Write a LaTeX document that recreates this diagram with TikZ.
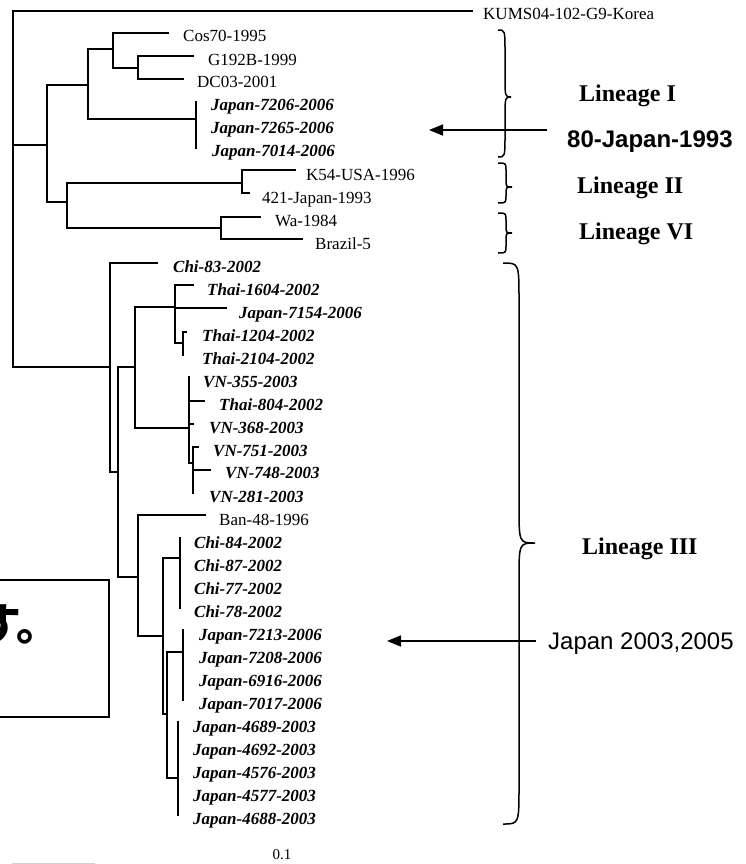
\documentclass[tikz,border=0pt]{standalone}
\usepackage{fontspec}
\setmainfont{Liberation Serif}
\newfontfamily\arialf{Liberation Sans}
\newfontfamily\jpf{Noto Sans CJK JP}
\usetikzlibrary{arrows.meta}
\newcommand{\mybrace}[7]{% x0 x1 x2 ytop ymid ybot r
  \draw[brc] (#1,#4) .. controls (#2,#4) .. (#2,{#4+#7}) -- (#2,{#5-#7})
    .. controls (#2,#5) .. (#3,#5) .. controls (#2,#5) .. (#2,{#5+#7})
    -- (#2,{#6-#7}) .. controls (#2,#6) .. (#1,#6);}
\tikzset{
  br/.style={line width=2.1pt, line cap=rect},
  lab/.style={anchor=base west, inner sep=0pt, font=\fontsize{17}{20}\selectfont},
  labi/.style={anchor=base west, inner sep=0pt, font=\fontsize{17}{20}\selectfont\bfseries\itshape},
  lin/.style={anchor=base west, inner sep=0pt, font=\fontsize{24}{28}\selectfont\bfseries},
  sans/.style={anchor=base west, inner sep=0pt, font=\fontsize{24}{28}\selectfont\arialf},
  brc/.style={line width=1.5pt},
  arr/.style={line width=1.5pt, -{Triangle[length=14pt,width=11pt]}},
}
\begin{document}
\begin{tikzpicture}[x=1pt,y=-1pt]
\useasboundingbox (0,0) rectangle (746,864);
% ---- internal nodes
\coordinate (r0) at (13,145);
\coordinate (nA) at (47,145);
\coordinate (nA1) at (88,85);
\coordinate (nA11) at (113,49);
\coordinate (nA111) at (138,68);
\coordinate (nJ) at (196,119);
\coordinate (nA2) at (67,202);
\coordinate (nK) at (242,183);
\coordinate (nW) at (221,228);
\coordinate (nB) at (110,367);
\coordinate (nB2) at (118,472);
\coordinate (nT) at (135,367);
\coordinate (nT1) at (175,307);
\coordinate (nT12) at (183,343);
\coordinate (nV) at (189,428);
\coordinate (nV2) at (193,463);
\coordinate (nC) at (138,577);
\coordinate (nC2) at (163,636);
\coordinate (nCh) at (180,558);
\coordinate (nJ2) at (167,714);
\coordinate (nJ21) at (183,652);
\coordinate (nJ22) at (178,778);
% ---- tips
\coordinate (tKUMS) at (472,11);
\coordinate (tCos) at (168,33);
\coordinate (tG192) at (193,56);
\coordinate (tDC03) at (183,79);
\coordinate (tJ7206) at (196,102);
\coordinate (tJ7265) at (196,125);
\coordinate (tJ7014) at (196,148);
\coordinate (tK54) at (295,170);
\coordinate (t421) at (249,193);
\coordinate (tWa) at (260,217);
\coordinate (tBra) at (302,239);
\coordinate (tC83) at (157,263);
\coordinate (tT1604) at (193,285);
\coordinate (tJ7154) at (226,308);
\coordinate (tT1204) at (186,332);
\coordinate (tT2104) at (183,355);
\coordinate (tV355) at (189,377);
\coordinate (tT804) at (204,401);
\coordinate (tV368) at (193,424);
\coordinate (tV751) at (198,447);
\coordinate (tV748) at (210,470);
\coordinate (tV281) at (193,493);
\coordinate (tBan) at (205,515);
\coordinate (tC84) at (180,538);
\coordinate (tC87) at (180,562);
\coordinate (tC77) at (180,585);
\coordinate (tC78) at (180,608);
\coordinate (tJ7213) at (183,630);
\coordinate (tJ7208) at (183,654);
\coordinate (tJ6916) at (183,677);
\coordinate (tJ7017) at (183,700);
\coordinate (tJ4689) at (178,722);
\coordinate (tJ4692) at (178,745);
\coordinate (tJ4576) at (178,768);
\coordinate (tJ4577) at (178,792);
\coordinate (tJ4688) at (178,815);
% ---- branches
\draw[br] (r0) |- (tKUMS);
\draw[br] (r0) -- (nA);
\draw[br] (r0) |- (nB);
\draw[br] (nA) |- (nA1);
\draw[br] (nA) |- (nA2);
\draw[br] (nA1) |- (nA11);
\draw[br] (nA1) |- (nJ);
\draw[br] (nA11) |- (tCos);
\draw[br] (nA11) |- (nA111);
\draw[br] (nA111) |- (tG192);
\draw[br] (nA111) |- (tDC03);
\draw[br] (nJ) -- (tJ7206);
\draw[br] (nJ) -- (tJ7014);
\draw[br] (nA2) |- (nK);
\draw[br] (nA2) |- (nW);
\draw[br] (nK) |- (tK54);
\draw[br] (nK) |- (t421);
\draw[br] (nW) |- (tWa);
\draw[br] (nW) |- (tBra);
\draw[br] (nB) |- (tC83);
\draw[br] (nB) |- (nB2);
\draw[br] (nB2) |- (nT);
\draw[br] (nB2) |- (nC);
\draw[br] (nT) |- (nT1);
\draw[br] (nT) |- (nV);
\draw[br] (nT1) |- (tT1604);
\draw[br] (nT1) |- (tJ7154);
\draw[br] (nT1) |- (nT12);
\draw[br] (nT12) |- (tT1204);
\draw[br] (nT12) |- (tT2104);
\draw[br] (nV) |- (tV355);
\draw[br] (nV) |- (tT804);
\draw[br] (nV) |- (tV368);
\draw[br] (nV) |- (nV2);
\draw[br] (nV2) |- (tV751);
\draw[br] (nV2) |- (tV748);
\draw[br] (nV2) |- (tV281);
\draw[br] (nC) |- (tBan);
\draw[br] (nC) |- (nC2);
\draw[br] (nC2) |- (nCh);
\draw[br] (nC2) |- (nJ2);
\draw[br] (nCh) -- (tC84);
\draw[br] (nCh) -- (tC78);
\draw[br] (nJ2) |- (nJ21);
\draw[br] (nJ2) |- (nJ22);
\draw[br] (nJ21) -- (tJ7213);
\draw[br] (nJ21) -- (tJ7017);
\draw[br] (nJ22) -- (tJ4689);
\draw[br] (nJ22) -- (tJ4688);
% ---- labels
\node[lab]  (lKUMS)  at (483,20) {KUMS04-102-G9-Korea};
\node[lab]  (lCos)   at (183,42) {Cos70-1995};
\node[lab]  (lG192)  at (208,66) {G192B-1999};
\node[lab]  (lDC03)  at (197,88) {DC03-2001};
\node[labi] (lJ7206) at (211,111) {Japan-7206-2006};
\node[labi] (lJ7265) at (211,134) {Japan-7265-2006};
\node[labi] (lJ7014) at (212,157) {Japan-7014-2006};
\node[lab]  (lK54)   at (306,180) {K54-USA-1996};
\node[lab]  (l421)   at (262,203) {421-Japan-1993};
\node[lab]  (lWa)    at (275,226) {Wa-1984};
\node[lab]  (lBra)   at (315,249) {Brazil-5};
\node[labi] (lC83)   at (173,272) {Chi-83-2002};
\node[labi] (lT1604) at (207,295) {Thai-1604-2002};
\node[labi] (lJ7154) at (239,318) {Japan-7154-2006};
\node[labi] (lT1204) at (202,341) {Thai-1204-2002};
\node[labi] (lT2104) at (202,364) {Thai-2104-2002};
\node[labi] (lV355)  at (203,387) {VN-355-2003};
\node[labi] (lT804)  at (219,410) {Thai-804-2002};
\node[labi] (lV368)  at (209,433) {VN-368-2003};
\node[labi] (lV751)  at (213,456) {VN-751-2003};
\node[labi] (lV748)  at (225,478) {VN-748-2003};
\node[labi] (lV281)  at (209,502) {VN-281-2003};
\node[lab]  (lBan)   at (219,525) {Ban-48-1996};
\node[labi] (lC84)   at (194,548) {Chi-84-2002};
\node[labi] (lC87)   at (194,571) {Chi-87-2002};
\node[labi] (lC77)   at (194,594) {Chi-77-2002};
\node[labi] (lC78)   at (194,617) {Chi-78-2002};
\node[labi] (lJ7213) at (199,640) {Japan-7213-2006};
\node[labi] (lJ7208) at (199,663) {Japan-7208-2006};
\node[labi] (lJ6916) at (199,686) {Japan-6916-2006};
\node[labi] (lJ7017) at (199,709) {Japan-7017-2006};
\node[labi] (lJ4689) at (193,732) {Japan-4689-2003};
\node[labi] (lJ4692) at (193,755) {Japan-4692-2003};
\node[labi] (lJ4576) at (193,778) {Japan-4576-2003};
\node[labi] (lJ4577) at (193,801) {Japan-4577-2003};
\node[labi] (lJ4688) at (193,824) {Japan-4688-2003};
\node[anchor=base, inner sep=0pt, font=\fontsize{15}{18}\selectfont] (lscale) at (282,859) {0.1};
\draw[gray!35, line width=1pt] (12,863.5) -- (95,863.5);
% ---- braces
\mybrace{498}{505}{511}{30}{97}{157}{22}
\mybrace{498}{506}{512}{163}{187}{203}{8}
\mybrace{498}{506}{512}{213}{233}{253}{8}
\mybrace{503}{519}{535}{263}{543}{824}{38}
% ---- lineage labels
\node[lin] (lLI)   at (579,102) {Lineage I};
\node[lin] (lLII)  at (577,193) {Lineage II};
\node[lin] (lLVI)  at (579,239) {Lineage VI};
\node[lin] (lLIII) at (582,554) {Lineage III};
\node[sans, font=\fontsize{24}{28}\selectfont\arialf\bfseries] (l80) at (567,147) {80-Japan-1993};
\node[sans] (lJ0305) at (548,649) {Japan 2003,2005};
% ---- arrows
\coordinate (a1s) at (547,130);
\coordinate (a1e) at (429,130);
\coordinate (a2s) at (536,641);
\coordinate (a2e) at (387,641);
\draw[arr] (a1s) -- (a1e);
\draw[arr] (a2s) -- (a2e);
% ---- Japanese box (cut at left edge, as in the reference)
\draw[line width=2.8pt] (-10,580) rectangle (109,717);
\node[anchor=base west, inner sep=0pt, font=\fontsize{44}{48}\selectfont\jpf\bfseries] (ljp) at (-23,640) {す。};
\end{tikzpicture}
\end{document}
